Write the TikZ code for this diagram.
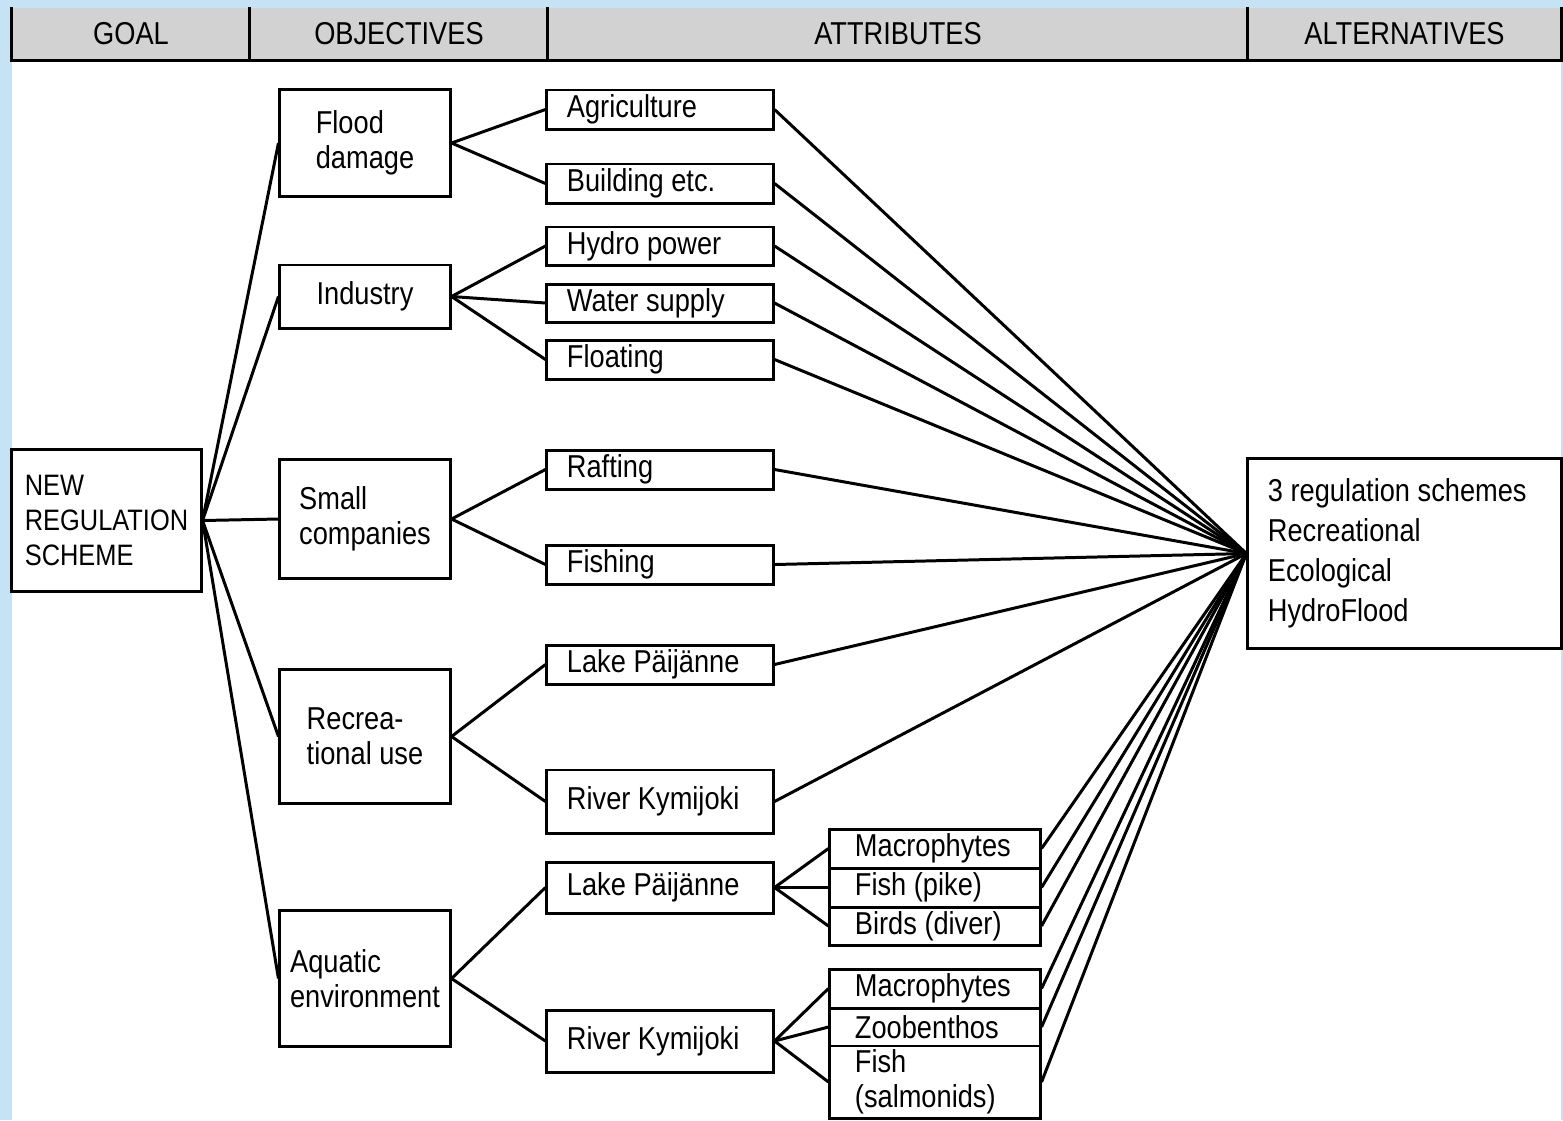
\documentclass[tikz,border=0pt]{standalone}
\usepackage{fontspec}
\setmainfont[FakeStretch=0.86]{Liberation Sans}
\usepackage{tikz}
\usetikzlibrary{positioning, calc}
\definecolor{bgblue}{RGB}{198, 226, 245}
\definecolor{hdrgray}{RGB}{210, 210, 210}

\tikzset{
  box/.style={draw, line width=0.85pt, fill=white, inner ysep=1pt, align=flush left, font=\fontsize{9}{10}\selectfont},
  goalbox/.style={box, minimum width=1.89cm, minimum height=1.41cm, font=\fontsize{8.4}{10}\selectfont},
  objbox/.style={box, minimum width=1.7cm, inner xsep=1pt},
  attrbox/.style={box, text width=1.86cm, inner xsep=0.2cm},
  subbox/.style={box, text width=1.6cm, inner xsep=0.25cm},
  altbox/.style={box, text width=2.73cm, inner xsep=0.2cm, minimum height=1.89cm, font=\fontsize{9}{11.4}\selectfont},
  hdr/.style={fill=hdrgray, minimum height=0.52cm, inner sep=0pt, font=\fontsize{9}{10}\selectfont},
  link/.style={line width=0.85pt}
}

\begin{document}
\begin{tikzpicture}[x=0.01cm, y=-0.01cm]
  \useasboundingbox (0,0) rectangle (1563,1120);
  \fill[bgblue] (0,0) rectangle (1563,1120);
  \fill[white] (12,8) rectangle (1561,1120);

  % Header row
  \node[hdr, minimum width=2.38cm] (hgoal) at (131,34) {GOAL};
  \node[hdr, minimum width=2.98cm] (hobj) at (399,34) {OBJECTIVES};
  \node[hdr, minimum width=7.00cm] (hattr) at (898,34) {ATTRIBUTES};
  \node[hdr, minimum width=3.13cm] (halt) at (1404.5,34) {ALTERNATIVES};
  \draw[link] (hgoal.north west) -- (hgoal.south west) -- (halt.south east) -- (halt.north east);
  \draw[link] (hobj.north west) -- (hobj.south west);
  \draw[link] (hattr.north west) -- (hattr.south west);
  \draw[link] (halt.north west) -- (halt.south west);

  % Goal
  \node[goalbox] (goal) at (106.5,520.5) {NEW\\REGULATION\\SCHEME};

  % Objectives
  \node[objbox, minimum height=1.06cm] (flood) at (365,143) {Flood\\damage};
  \node[objbox, minimum height=0.63cm] (industry) at (365,296.5) {Industry};
  \node[objbox, minimum height=1.18cm] (smallco) at (365,519) {Small\\companies};
  \node[objbox, minimum height=1.33cm] (recr) at (365,736.5) {Recrea-\\tional use};
  \node[objbox, minimum height=1.35cm] (aquatic) at (365,978.5) {Aquatic\\environment};

  % Attributes
  \node[attrbox, minimum height=0.39cm] (agri) at (660,109.5) {Agriculture};
  \node[attrbox, minimum height=0.39cm] (build) at (660,183.5) {Building etc.};
  \node[attrbox, minimum height=0.38cm] (hydro) at (660,246) {Hydro power};
  \node[attrbox, minimum height=0.38cm] (water) at (660,303) {Water supply};
  \node[attrbox, minimum height=0.39cm] (floating) at (660,359.5) {Floating};
  \node[attrbox, minimum height=0.39cm] (raft) at (660,469.5) {Rafting};
  \node[attrbox, minimum height=0.39cm] (fishing) at (660,564.5) {Fishing};
  \node[attrbox, minimum height=0.39cm] (lakerec) at (660,664.5) {Lake Päijänne};
  \node[attrbox, minimum height=0.63cm] (riverrec) at (660,801.5) {River Kymijoki};
  \node[attrbox, minimum height=0.51cm] (lakeaq) at (660,887.5) {Lake Päijänne};
  \node[attrbox, minimum height=0.62cm] (riveraq) at (660,1041) {River Kymijoki};

  % Sub-attributes
  \node[subbox, minimum height=0.39cm] (macrolake) at (935,848.5) {Macrophytes};
  \node[subbox, minimum height=0.39cm] (pike) at (935,887.5) {Fish (pike)};
  \node[subbox, minimum height=0.38cm] (diver) at (935,926) {Birds (diver)};
  \node[subbox, minimum height=0.39cm] (macroriver) at (935,988.5) {Macrophytes};
  \node[subbox, minimum height=0.38cm] (zoob) at (935,1027) {Zoobenthos};
  \node[subbox, minimum height=0.72cm] (salmon) at (935,1082) {Fish\\(salmonids)};

  % Alternatives
  \node[altbox] (alt) at (1404.5,553.5) {3 regulation schemes\\Recreational\\Ecological\\HydroFlood};

  % Goal to objectives
  \foreach \o in {flood, industry, smallco, recr, aquatic}
    \draw[link] (goal.east) -- (\o.west);

  % Objectives to attributes
  \foreach \a in {agri, build} \draw[link] (flood.east) -- (\a.west);
  \foreach \a in {hydro, water, floating} \draw[link] (industry.east) -- (\a.west);
  \foreach \a in {raft, fishing} \draw[link] (smallco.east) -- (\a.west);
  \foreach \a in {lakerec, riverrec} \draw[link] (recr.east) -- (\a.west);
  \foreach \a in {lakeaq, riveraq} \draw[link] (aquatic.east) -- (\a.west);

  % Attributes to sub-attributes
  \foreach \s in {macrolake, pike, diver} \draw[link] (lakeaq.east) -- (\s.west);
  \foreach \s in {macroriver, zoob, salmon} \draw[link] (riveraq.east) -- (\s.west);

  % Everything to alternatives
  \foreach \a in {agri, build, hydro, water, floating, raft, fishing, lakerec, riverrec,
                  macrolake, pike, diver, macroriver, zoob, salmon}
    \draw[link] (\a.east) -- (alt.west);
\end{tikzpicture}
\end{document}
